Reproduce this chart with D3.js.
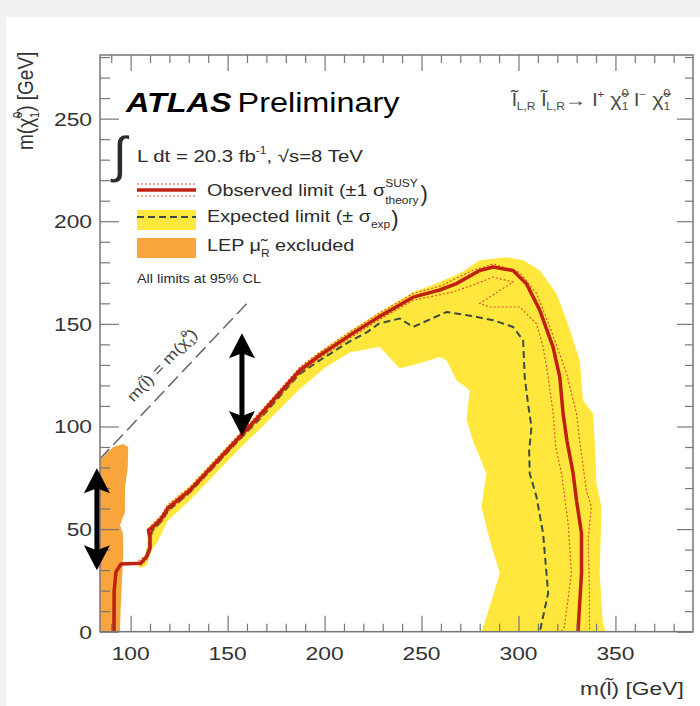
<!DOCTYPE html>
<html>
<head>
<meta charset="utf-8">
<script src="https://cdn.jsdelivr.net/npm/d3@7"></script>
<style>
  html, body { margin: 0; padding: 0; background: #f1f1f1; }
  svg { display: block; }
  text { font-family: "Liberation Sans", Arial, sans-serif; white-space: pre; }
</style>
</head>
<body>
<svg id="chart" width="700" height="706"></svg>
<script>
// axis ticks
var xMajor = [100, 150, 200, 250, 300, 350];
var yMajor = [0, 50, 100, 150, 200, 250];

// observed limit (m_slepton, m_chi)
var observed = [[91.4,0],[91.5,20],[92.4,29],[95,33],[105.3,33.4],[108.4,36.8],[110,40.7],[110,45.6],
  [109.2,49.5],[111.5,51],[116,55.3],[119.2,60.2],[130.6,69],[158,96.7],[166.7,105.5],[187.3,127.4],
  [197.6,134.7],[213,144.4],[228,153.4],[245.7,163],[259.4,166.5],[268,169.6],[280,176],[286.9,177.7],
  [297.2,176],[304.1,169.6],[311,156.6],[317.8,138.8],[321.3,124.2],[323,106.3],[325,93],[328.2,77.1],
  [329.9,64.1],[332.5,47.9],[332.5,28.4],[330.7,0]];

// observed +1 sigma theory
var theoryUp = [[104,34.5],[108.5,37.5],[109.8,45],[110.5,51.5],[116,56.8],[119,61.7],[130.6,70.5],
  [158,98.2],[166.7,107],[187.3,129],[197.6,136.2],[213,146],[228,155],[245.7,164.8],[260,168.5],
  [275,175.5],[286.9,179.2],[300.7,175],[309.3,164.8],[316.2,148.5],[324.8,125.8],[329.9,106.3],
  [331.6,93],[335,68.9],[337.6,60.9],[335.9,44.6],[336.6,20.3],[336.6,0]];

// observed -1 sigma theory
var theoryDown = [[105,32.2],[108.8,35.5],[110.3,40],[110.3,45.5],[112,50],[116.3,53.8],[119.5,58.7],
  [130.6,67.6],[158,95.2],[166.7,104],[187.3,126],[197.6,133.3],[213,143],[228,152],[245.7,161.5],
  [266.3,165.5],[278.4,169.6],[286.9,172.8],[297.2,170.4],[280,159.9],[285.2,158.2],[300.6,158.2],
  [309.3,150.1],[312.7,138.8],[315.3,124.2],[317.9,106.3],[319.2,90],[322.2,77.1],[325.6,52.8],
  [327.3,28.4],[323.7,2.4],[322,0]];

// expected limit
var expected = [[104,33],[108,36],[109.5,42],[111,49],[116,54],[119.5,59],[130.6,68],[158,95.5],
  [167,104],[187,125.5],[198,132.5],[213,141.5],[222,146],[228,150.1],[238.8,152.6],[245.7,148.5],
  [262.9,155.8],[275,154],[286.9,151.8],[297.2,148.5],[302.4,142],[303.2,124.2],[304.9,111.2],
  [306.7,99.8],[305.5,88],[305.8,77.1],[309.3,65.7],[312.7,47.9],[315.3,18.7],[311,0]];

// expected +-1 sigma band outline
var expBand = [[104,34],[107,36],[108.5,42],[108.5,50.5],[111,52.5],[116,57],[119,62],[130.6,71],
  [158,98.5],[167,107.5],[187.3,129],[197.6,136.5],[213,146.5],[228,155.5],[245.7,165.5],[254.3,168.5],
  [269.7,174.5],[280,181],[293.8,182.5],[302.4,181],[311,176.1],[319.6,164.8],[324.8,151.8],
  [331.6,132.3],[333.3,112.8],[338.4,106.3],[339.3,93.3],[340.2,72.2],[342.8,60.9],[341.9,28.4],
  [343.5,4],[345,0],
  [281,0],[283.5,7.3],[290.4,28.4],[285.2,44.6],[280.9,60.9],[283.5,77.1],[277,92],[273.2,103],
  [274.9,117.7],[268,122.5],[262.9,132.3],[259.4,133.9],[250,131],[238.8,128.2],[228.4,138.8],
  [213,136],[200,128.5],[187,118],[167,99],[158,91],[130.6,64],[119,54],[114,44],[111,40],[108,32],[104,31]];

// LEP smuon_R exclusion
var lepRegion = [[84,0],[84,83.5],[91,90],[96,91.5],[98.8,90],[98.5,80],[97.1,70],[97,58],[94.5,52],
  [96,48],[96.2,38],[95.5,25],[94.8,10],[94.5,0]];

// kinematic limit m(slepton) = m(chi)
var diagonal = [[84,84],[160,160]];

// black double arrows drawn over the figure
var arrowMarks = [{x: 82.6, y1: 30, y2: 79.6}, {x: 157.4, y1: 95.3, y2: 145.4}];

var SX = 1.2;
var ink = "#2b2b2b";
var svg = d3.select("#chart");

svg.append("rect").attr("x", 6).attr("y", 17).attr("width", 694).attr("height", 689).attr("fill", "#fff");

var x = d3.scaleLinear().domain([84.2, 390]).range([100, 693]);
var y = d3.scaleLinear().domain([0, 281]).range([631.7, 55]);

svg.append("clipPath").attr("id", "plot").append("rect")
  .attr("x", 100).attr("y", 55).attr("width", 593).attr("height", 576.7);

var line = d3.line().x(function (d) { return x(d[0]); }).y(function (d) { return y(d[1]); });
var area = d3.line().x(function (d) { return x(d[0]); }).y(function (d) { return y(d[1]); }).curve(d3.curveLinearClosed);

var plot = svg.append("g").attr("clip-path", "url(#plot)");
plot.append("path").attr("d", area(lepRegion)).attr("fill", "#f8a53c");
plot.append("path").attr("d", area(expBand)).attr("fill", "#ffe73d");
plot.append("path").attr("d", line(expected)).attr("fill", "none")
  .attr("stroke", "#3e4a44").attr("stroke-width", 2).attr("stroke-dasharray", "7,4");
[theoryUp, theoryDown].forEach(function (s) {
  plot.append("path").attr("d", line(s)).attr("fill", "none")
    .attr("stroke", "#e4532c").attr("stroke-width", 1.2).attr("stroke-dasharray", "2,2");
});
plot.append("path").attr("d", line(observed)).attr("fill", "none")
  .attr("stroke", "#c0200f").attr("stroke-width", 3.5).attr("stroke-linejoin", "round");
plot.append("path").attr("d", line(diagonal)).attr("fill", "none")
  .attr("stroke", "#666").attr("stroke-width", 1.5).attr("stroke-dasharray", "14,6");

// frame and ticks
function ticks(axis, tx, ty) {
  svg.append("g").attr("transform", "translate(" + tx + "," + ty + ")").call(axis)
    .call(function (g) { g.select(".domain").remove(); g.selectAll("line").attr("stroke", "#777").attr("stroke-width", 1.2); });
}
var xMinor = d3.range(90, 390, 10).filter(function (v) { return v % 50; });
var yMinor = d3.range(10, 281, 10).filter(function (v) { return v % 50; });
ticks(d3.axisBottom(x).tickValues(xMajor).tickSize(-16).tickFormat(""), 0, y(0));
ticks(d3.axisBottom(x).tickValues(xMinor).tickSize(-8).tickFormat(""), 0, y(0));
ticks(d3.axisTop(x).tickValues(xMajor).tickSize(-16).tickFormat(""), 0, y(281));
ticks(d3.axisTop(x).tickValues(xMinor).tickSize(-8).tickFormat(""), 0, y(281));
ticks(d3.axisLeft(y).tickValues(yMajor).tickSize(-19).tickFormat(""), x(84.2), 0);
ticks(d3.axisLeft(y).tickValues(yMinor).tickSize(-10).tickFormat(""), x(84.2), 0);
ticks(d3.axisRight(y).tickValues(yMajor).tickSize(-16).tickFormat(""), x(390), 0);
ticks(d3.axisRight(y).tickValues(yMinor).tickSize(-8).tickFormat(""), x(390), 0);
svg.append("rect").attr("x", 100).attr("y", 55).attr("width", 593).attr("height", 576.7)
  .attr("fill", "none").attr("stroke", "#777").attr("stroke-width", 1.5);

// text helpers
function txt(parent, px, py, size, s, anchor, fill, sx) {
  return parent.append("text")
    .attr("transform", "translate(" + px + "," + py + ") scale(" + (sx || SX) + ",1)")
    .attr("font-size", size).attr("fill", fill || ink).attr("text-anchor", anchor || "start").text(s);
}
function rich(parent, px, py, size, segs, fill, sx) {
  var cx = px, lastStart = px;
  sx = sx || SX;
  segs.forEach(function (sg) {
    var sx0 = sg.stack ? lastStart : cx;
    var t = txt(parent, sx0, py + (sg.dy || 0), sg.size || size, sg.s, "start", fill, sx);
    var wd = t.node().getComputedTextLength() * sx;
    if (sg.stack) { cx = Math.max(cx, sx0 + wd); } else { lastStart = sx0; cx = sx0 + wd; }
  });
  return cx;
}

// tick labels
xMajor.forEach(function (v) { txt(svg, x(v), 660, 19, String(v), "middle", "#333"); });
yMajor.forEach(function (v) { txt(svg, 92, y(v) + 7, 19, String(v), "end", "#333"); });

// axis titles
rich(svg, 580, 695, 19, [{s: "m(l\u0303) [GeV]"}], "#333");
var yt = svg.append("g").attr("transform", "translate(33,150) rotate(-90) scale(1,1.2)");
rich(yt, 0, 0, 19, [{s: "m(\u03c7\u0303"}, {s: "0", size: 11, dy: -9}, {s: "1", size: 11, dy: 5, stack: true},
  {s: ") [GeV]"}], "#333", 1);

// ATLAS label
var t1 = txt(svg, 126, 112, 27, "ATLAS").attr("font-weight", "bold").attr("font-style", "italic").attr("fill", "#000");
txt(svg, 126 + t1.node().getComputedTextLength() * SX + 6, 112, 27, "Preliminary", "start", "#000");

// process
rich(svg, 512, 106, 18, [{s: "l\u0303"}, {s: "L,R", size: 10, dy: 4}, {s: " l\u0303"}, {s: "L,R", size: 10, dy: 4},
  {s: "\u2192 l"}, {s: "+", size: 10, dy: -8}, {s: " \u03c7\u0303"}, {s: "0", size: 10, dy: -9}, {s: "1", size: 10, dy: 4, stack: true},
  {s: " l"}, {s: "\u2212", size: 10, dy: -8}, {s: " \u03c7\u0303"}, {s: "0", size: 10, dy: -9}, {s: "1", size: 10, dy: 4, stack: true}], "#4a4a4a");

// luminosity
txt(svg, 113, 172, 50, "\u222b", "start", ink, 1);
rich(svg, 137, 162, 17, [{s: "L dt = 20.3 fb"}, {s: "-1", size: 10, dy: -8}, {s: ", \u221as=8 TeV"}]);

// legend
svg.append("line").attr("x1", 137).attr("x2", 196).attr("y1", 190).attr("y2", 190).attr("stroke", "#c0200f").attr("stroke-width", 3.5);
[184, 196].forEach(function (ly) {
  svg.append("line").attr("x1", 137).attr("x2", 196).attr("y1", ly).attr("y2", ly)
    .attr("stroke", "#e4532c").attr("stroke-width", 1.2).attr("stroke-dasharray", "2,2");
});
var e1 = rich(svg, 207, 196, 16.5, [{s: "Observed limit (\u00b11 \u03c3"}, {s: "SUSY", size: 10, dy: -9}, {s: "theory", size: 10, dy: 8, stack: true}]);
txt(svg, e1 + 2, 201, 22, ")", "start", ink, 1);

svg.append("rect").attr("x", 137).attr("y", 210).attr("width", 59).attr("height", 20).attr("fill", "#ffe73d");
svg.append("line").attr("x1", 137).attr("x2", 196).attr("y1", 217).attr("y2", 217)
  .attr("stroke", "#3e4a44").attr("stroke-width", 2).attr("stroke-dasharray", "7,4");
var e2 = rich(svg, 207, 222, 16.5, [{s: "Expected limit (\u00b1 \u03c3"}, {s: "exp", size: 10, dy: 6}]);
txt(svg, e2 + 1, 226, 22, ")", "start", ink, 1);

svg.append("rect").attr("x", 137).attr("y", 238).attr("width", 59).attr("height", 20).attr("fill", "#f8a53c");
rich(svg, 207, 251, 16.5, [{s: "LEP \u03bc\u0303"}, {s: "R", size: 10, dy: 6}, {s: " excluded"}]);

txt(svg, 137, 283, 12, "All limits at 95% CL");

// diagonal label
var dg = svg.append("g").attr("transform", "translate(" + x(118.5) + "," + y(128.5) + ") rotate(-46.6)");
rich(dg, -48, 0, 15, [{s: "m(l\u0303) = m(\u03c7\u0303"}, {s: "0", size: 9, dy: -8}, {s: "1", size: 9, dy: 4, stack: true}, {s: ")"}], "#444", 1.2);

// arrows
arrowMarks.forEach(function (a) {
  var ax = x(a.x), top = y(a.y2), bot = y(a.y1);
  svg.append("line").attr("x1", ax).attr("x2", ax).attr("y1", top + 18).attr("y2", bot - 18)
    .attr("stroke", "#000").attr("stroke-width", 5);
  svg.append("path").attr("d", "M" + ax + "," + top + " L" + (ax - 13) + "," + (top + 25) + " L" + ax + "," + (top + 20) + " L" + (ax + 13) + "," + (top + 25) + " Z").attr("fill", "#000");
  svg.append("path").attr("d", "M" + ax + "," + bot + " L" + (ax - 13) + "," + (bot - 25) + " L" + ax + "," + (bot - 20) + " L" + (ax + 13) + "," + (bot - 25) + " Z").attr("fill", "#000");
});
</script>
</body>
</html>
